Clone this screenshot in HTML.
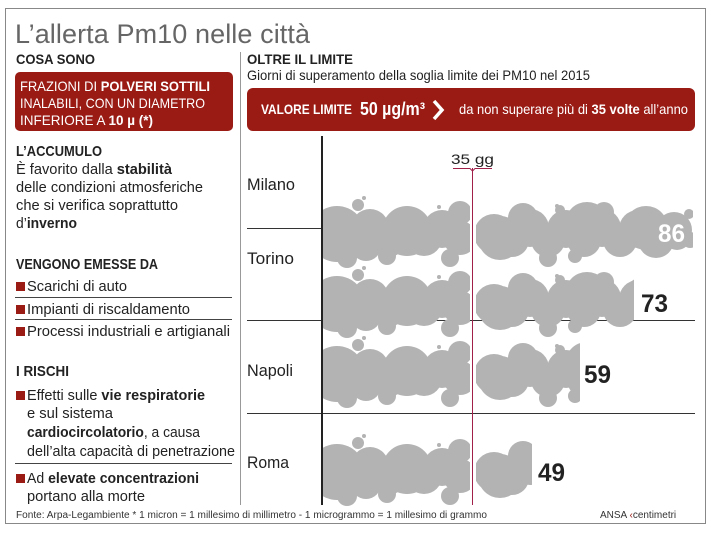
<!DOCTYPE html>
<html><head><meta charset="utf-8"><style>
body{margin:0;background:#fff}
svg{display:block}
text{font-family:"Liberation Sans Narrow","Liberation Sans",sans-serif}
.b{font-weight:bold}
</style></head><body>
<svg width="711" height="535" viewBox="0 0 711 535" xmlns="http://www.w3.org/2000/svg">
<defs>
<g id="bub" fill="#b3b3b3">
<circle cx="335" cy="233" r="21"/><circle cx="352" cy="240" r="18"/><circle cx="370" cy="228" r="19"/><circle cx="388" cy="238" r="19"/><circle cx="406" cy="230" r="22"/><circle cx="424" cy="238" r="18"/><circle cx="442" cy="229" r="19"/><circle cx="460" cy="238" r="17"/>
<circle cx="494" cy="234" r="20"/><circle cx="512" cy="240" r="17"/><circle cx="530" cy="228" r="19"/><circle cx="548" cy="240" r="17"/><circle cx="566" cy="229" r="19"/><circle cx="584" cy="240" r="17"/><circle cx="602" cy="228" r="19"/><circle cx="620" cy="240" r="17"/><circle cx="638" cy="229" r="19"/><circle cx="656" cy="240" r="18"/><circle cx="674" cy="230" r="18"/>
<circle cx="337" cy="234" r="28"/><circle cx="358" cy="205" r="6"/><circle cx="366" cy="246" r="15"/>
<circle cx="407" cy="231" r="25"/><circle cx="460" cy="213" r="12"/><circle cx="450" cy="258" r="9"/>
<circle cx="387" cy="256" r="9"/><circle cx="347" cy="258" r="10"/>
<circle cx="500" cy="238" r="22"/><circle cx="523" cy="218" r="15"/>
<circle cx="548" cy="258" r="9"/><circle cx="587" cy="224" r="22"/><circle cx="604" cy="212" r="10"/>
<circle cx="646" cy="228" r="22"/><circle cx="677" cy="236" r="14"/><circle cx="689" cy="214" r="5"/>
<circle cx="690" cy="240" r="8"/><circle cx="560" cy="210" r="5"/><circle cx="575" cy="256" r="7"/>
<circle cx="364" cy="198" r="2"/><circle cx="439" cy="207" r="2"/><circle cx="557" cy="206" r="2"/>
</g>
<clipPath id="cL"><rect x="323" y="0" width="147" height="535"/></clipPath>
<clipPath id="c1"><rect x="476" y="0" width="217" height="535"/></clipPath>
<clipPath id="c2"><rect x="476" y="0" width="158" height="535"/></clipPath>
<clipPath id="c3"><rect x="476" y="0" width="104" height="535"/></clipPath>
<clipPath id="c4"><rect x="476" y="0" width="56" height="535"/></clipPath>
</defs>
<rect x="5.5" y="8.5" width="700" height="515" fill="none" stroke="#888" stroke-width="1"/>
<text x="15" y="43" font-size="27" fill="#666" textLength="295" style="font-family:'Liberation Sans',sans-serif">L’allerta Pm10 nelle città</text>
<line x1="240.5" y1="52" x2="240.5" y2="505" stroke="#999"/>
<!-- left -->
<text x="16" y="64" font-size="14" class="b" fill="#222" textLength="79" lengthAdjust="spacingAndGlyphs">COSA SONO</text>
<rect x="15" y="72" width="218" height="59" rx="5" fill="#9a1a14"/>
<g font-size="14" fill="#fff">
<text x="20" y="91" textLength="190" lengthAdjust="spacingAndGlyphs">FRAZIONI DI <tspan class="b">POLVERI SOTTILI</tspan></text>
<text x="20" y="108" textLength="185" lengthAdjust="spacingAndGlyphs">INALABILI, CON UN DIAMETRO</text>
<text x="20" y="125" textLength="133" lengthAdjust="spacingAndGlyphs">INFERIORE A <tspan class="b">10 µ (*)</tspan></text>
</g>
<g font-size="15" fill="#222">
<text x="16" y="156" class="b" textLength="86" lengthAdjust="spacingAndGlyphs">L’ACCUMULO</text>
<text x="16" y="174" textLength="156" lengthAdjust="spacingAndGlyphs">È favorito dalla <tspan class="b">stabilità</tspan></text>
<text x="16" y="192" textLength="187" lengthAdjust="spacingAndGlyphs">delle condizioni atmosferiche</text>
<text x="16" y="210" textLength="162" lengthAdjust="spacingAndGlyphs">che si verifica soprattutto</text>
<text x="16" y="228" textLength="61" lengthAdjust="spacingAndGlyphs">d’<tspan class="b">inverno</tspan></text>
<text x="16" y="269" class="b" textLength="142" lengthAdjust="spacingAndGlyphs">VENGONO EMESSE DA</text>
<text x="27" y="291" textLength="100" lengthAdjust="spacingAndGlyphs">Scarichi di auto</text>
<text x="27" y="314" textLength="163" lengthAdjust="spacingAndGlyphs">Impianti di riscaldamento</text>
<text x="27" y="336" textLength="203" lengthAdjust="spacingAndGlyphs">Processi industriali e artigianali</text>
<text x="16" y="376" class="b" textLength="53" lengthAdjust="spacingAndGlyphs">I RISCHI</text>
<text x="27" y="400" textLength="178" lengthAdjust="spacingAndGlyphs">Effetti sulle <tspan class="b">vie respiratorie</tspan></text>
<text x="27" y="418" textLength="86" lengthAdjust="spacingAndGlyphs">e sul sistema</text>
<text x="27" y="437" textLength="173" lengthAdjust="spacingAndGlyphs"><tspan class="b">cardiocircolatorio</tspan>, a causa</text>
<text x="27" y="456" textLength="208" lengthAdjust="spacingAndGlyphs">dell’alta capacità di penetrazione</text>
<text x="27" y="483" textLength="172" lengthAdjust="spacingAndGlyphs">Ad <tspan class="b">elevate concentrazioni</tspan></text>
<text x="27" y="501" textLength="118" lengthAdjust="spacingAndGlyphs">portano alla morte</text>
</g>
<g fill="#9a1a14"><rect x="16" y="282" width="9" height="9"/><rect x="16" y="305" width="9" height="9"/><rect x="16" y="327" width="9" height="9"/><rect x="16" y="391" width="9" height="9"/><rect x="16" y="474" width="9" height="9"/></g>
<g stroke="#444"><line x1="15" y1="297.5" x2="232" y2="297.5"/><line x1="15" y1="319.5" x2="232" y2="319.5"/><line x1="15" y1="463.5" x2="232" y2="463.5"/></g>
<!-- right -->
<text x="247" y="64" font-size="14" class="b" fill="#222" textLength="106" lengthAdjust="spacingAndGlyphs">OLTRE IL LIMITE</text>
<text x="247" y="80" font-size="14" fill="#222" textLength="343" lengthAdjust="spacingAndGlyphs">Giorni di superamento della soglia limite dei PM10 nel 2015</text>
<rect x="247" y="88" width="448" height="43" rx="6" fill="#9a1a14"/>
<text x="261" y="114" font-size="14" class="b" fill="#fff" textLength="91" lengthAdjust="spacingAndGlyphs">VALORE LIMITE</text>
<text x="360" y="115" font-size="18" class="b" fill="#fff" textLength="65" lengthAdjust="spacingAndGlyphs">50 µg/m³</text>
<path d="M434 101 L442 110 L434 119" fill="none" stroke="#fff" stroke-width="3.5"/>
<text x="459" y="114" font-size="14" fill="#fff" textLength="229" lengthAdjust="spacingAndGlyphs">da non superare più di <tspan class="b">35 volte</tspan> all’anno</text>
<!-- chart -->
<g stroke="#333"><line x1="247" y1="228.5" x2="321" y2="228.5"/><line x1="247" y1="320.5" x2="695" y2="320.5"/><line x1="247" y1="413.5" x2="695" y2="413.5"/></g>
<g clip-path="url(#cL)"><use href="#bub"/><use href="#bub" y="70"/><use href="#bub" y="140"/><use href="#bub" y="238"/></g>
<g clip-path="url(#c1)"><use href="#bub"/></g>
<g clip-path="url(#c2)"><use href="#bub" y="70"/></g>
<g clip-path="url(#c3)"><use href="#bub" y="140"/></g>
<g clip-path="url(#c4)"><use href="#bub" y="238"/></g>
<line x1="322" y1="136" x2="322" y2="505" stroke="#222" stroke-width="2"/>
<line x1="472.5" y1="168" x2="472.5" y2="505" stroke="#a0204a" stroke-width="1"/>
<path d="M453 168.5 H470 L472.5 171 L475 168.5 H492" fill="none" stroke="#a0204a"/>
<text x="451" y="164" font-size="14" fill="#222" textLength="43" lengthAdjust="spacingAndGlyphs">35 gg</text>
<g font-size="17" fill="#222">
<text x="247" y="190" textLength="48" lengthAdjust="spacingAndGlyphs">Milano</text>
<text x="247" y="264" textLength="47" lengthAdjust="spacingAndGlyphs">Torino</text>
<text x="247" y="376" textLength="46" lengthAdjust="spacingAndGlyphs">Napoli</text>
<text x="247" y="468" textLength="42" lengthAdjust="spacingAndGlyphs">Roma</text>
</g>
<g font-size="25" class="b">
<text x="658" y="242" fill="#fff" textLength="27" lengthAdjust="spacingAndGlyphs">86</text>
<text x="641" y="312" fill="#222" textLength="27" lengthAdjust="spacingAndGlyphs">73</text>
<text x="584" y="383" fill="#222" textLength="27" lengthAdjust="spacingAndGlyphs">59</text>
<text x="538" y="481" fill="#222" textLength="27" lengthAdjust="spacingAndGlyphs">49</text>
</g>
<text x="16" y="518" font-size="10" fill="#333" textLength="471" lengthAdjust="spacingAndGlyphs">Fonte: Arpa-Legambiente   * 1 micron = 1 millesimo di millimetro - 1 microgrammo = 1 millesimo di grammo</text>
<text x="600" y="518" font-size="10" fill="#333">ANSA <tspan fill="#9a1a14">‹</tspan>centimetri</text>
</svg>
</body></html>
